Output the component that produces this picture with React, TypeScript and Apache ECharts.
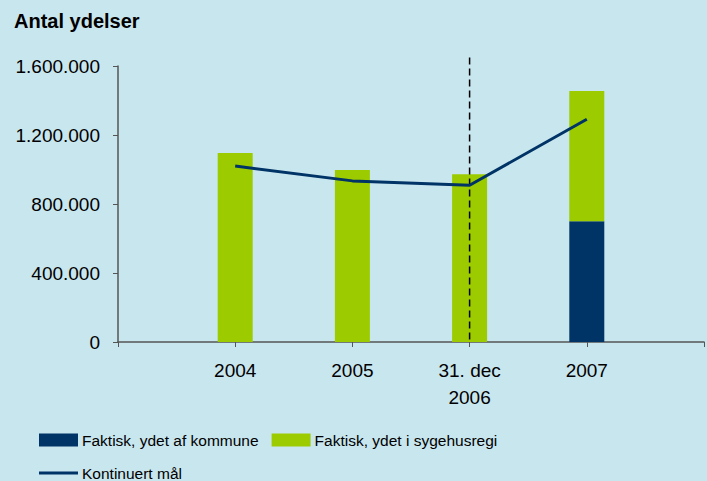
import React, { useEffect, useRef } from "react";
import * as echarts from "echarts";

const categories = ["", "2004", "2005", "31. dec\n2006", "2007", ""];
const kommune = [null, null, null, null, 700000, null];
const sygehusregi = [null, 1095000, 997000, 973000, 755000, null];
const kontinuertMaal = [null, 1020000, 934000, 909000, 1291000, null];
const yTicks = { min: 0, max: 1600000, interval: 400000 };
const markerCategory = "31. dec\n2006";
const markerTop = 1650000;

const FONT = "Liberation Sans, Arial, sans-serif";
const NAVY = "#003366";
const GREEN = "#9ccb00";

function fmt(v: number): string {
  return String(Math.round(v)).replace(/\B(?=(\d{3})+(?!\d))/g, ".");
}

export default function App() {
  const ref = useRef<HTMLDivElement>(null);
  useEffect(() => {
    if (!ref.current) return;
    const chart = echarts.init(ref.current, null, { renderer: "svg" });
    chart.setOption({
      animation: false,
      backgroundColor: "#c8e6ee",
      textStyle: { fontFamily: FONT, color: "#000" },
      title: {
        text: "Antal ydelser",
        left: 9,
        top: 6,
        textStyle: { fontFamily: FONT, fontSize: 20, fontWeight: "bold", color: "#000" },
      },
      grid: { left: 118, right: 1, top: 66, bottom: 139, containLabel: false },
      legend: [
        {
          data: [
            { name: "Faktisk, ydet af kommune", icon: "rect" },
            { name: "Faktisk, ydet i sygehusregi", icon: "rect" },
          ],
          left: 34,
          top: 427,
          itemWidth: 39,
          itemHeight: 13,
          itemGap: 13,
          textStyle: { fontFamily: FONT, fontSize: 15.5, color: "#000", padding: [0, 0, 0, -1] },
        },
        {
          data: [{ name: "Kontinuert mål", icon: "rect" }],
          left: 34,
          top: 460,
          itemWidth: 39,
          itemHeight: 3,
          itemStyle: { color: NAVY },
          textStyle: { fontFamily: FONT, fontSize: 15.5, color: "#000", padding: [0, 0, 0, -1] },
        },
      ],
      xAxis: {
        type: "category",
        data: categories,
        boundaryGap: false,
        axisLine: { lineStyle: { color: "#555", width: 1.5 } },
        axisTick: { show: true, length: 5, lineStyle: { color: "#555" } },
        axisLabel: {
          fontFamily: FONT,
          fontSize: 19,
          color: "#000",
          margin: 15,
          lineHeight: 27,
          interval: 0,
        },
        splitLine: { show: false },
      },
      yAxis: {
        type: "value",
        min: yTicks.min,
        max: yTicks.max,
        interval: yTicks.interval,
        axisLine: { show: true, lineStyle: { color: "#555", width: 1.5 } },
        axisTick: { show: true, length: 5, lineStyle: { color: "#555" } },
        axisLabel: {
          fontFamily: FONT,
          fontSize: 19,
          color: "#000",
          margin: 18,
          formatter: (v: number) => fmt(v),
        },
        splitLine: { show: false },
      },
      series: [
        {
          name: "Faktisk, ydet af kommune",
          type: "bar",
          stack: "total",
          barWidth: 35,
          data: kommune,
          itemStyle: { color: NAVY },
        },
        {
          name: "Faktisk, ydet i sygehusregi",
          type: "bar",
          stack: "total",
          barWidth: 35,
          data: sygehusregi,
          itemStyle: { color: GREEN },
        },
        {
          name: "marker",
          type: "custom",
          silent: true,
          clip: false,
          z: 4,
          data: [[markerCategory, markerTop]],
          encode: { x: 0, y: 1 },
          renderItem: (params: any, api: any) => {
            const top = api.coord([api.value(0), api.value(1)]);
            const bottom = api.coord([api.value(0), 0]);
            return {
              type: "line",
              shape: { x1: top[0], y1: top[1], x2: bottom[0], y2: bottom[1] },
              style: { stroke: "#000", lineWidth: 1.5, lineDash: [7, 4] },
            };
          },
        },
        {
          name: "Kontinuert mål",
          type: "line",
          data: kontinuertMaal,
          symbol: "none",
          connectNulls: false,
          lineStyle: { color: NAVY, width: 3 },
          itemStyle: { color: NAVY },
          z: 5,
        },
      ],
    });
    return () => chart.dispose();
  }, []);
  return (
    <div
      ref={ref}
      style={{ position: "fixed", left: 0, top: 0, width: 707, height: 481 }}
    />
  );
}
